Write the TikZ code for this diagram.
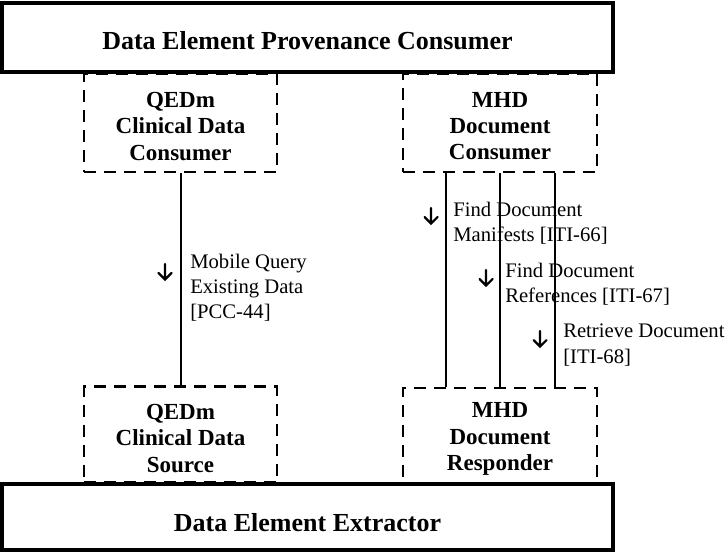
\documentclass[tikz,border=0pt]{standalone}
\usepackage{fontspec}
\setmainfont{Liberation Serif}
\begin{document}
\begin{tikzpicture}[x=0.75pt,y=-0.75pt,
  solidbox/.style={draw, line width=2.4pt, inner sep=0pt, text depth=0pt, font=\fontsize{19.5}{22}\selectfont\bfseries},
  dashbox/.style={draw, line width=2.2pt, dash pattern=on 9pt off 6pt, inner sep=0pt},
  boxtext/.style={inner sep=0pt, align=center, font=\fontsize{17.25}{19.6}\selectfont\bfseries},
  conn/.style={line width=1.5pt},
  lbl/.style={anchor=west, align=left, inner sep=0pt, font=\fontsize{15.5}{18.9}\selectfont},
  dnarrow/.pic={\draw[line width=1.6pt, line cap=round, line join=miter] (0,-8) -- (0,7.5) (-6.5,1) -- (0,7.5) -- (6.5,1);}
]
\useasboundingbox (0,0) rectangle (728,553);
% outer actor boxes
\node[solidbox, minimum width=458.25pt, minimum height=51.75pt, text height=18pt] (dep) at (307.5,37.5) {Data Element Provenance Consumer};
\node[solidbox, minimum width=458.25pt, minimum height=49.5pt, text height=21pt] (dee) at (307.5,517) {Data Element Extractor};
% dashed actors
\node[dashbox, minimum width=144.75pt, minimum height=73.5pt] (qcons) at (180.5,123) {};
\node[boxtext] (qcons-t) at ([yshift=-2.6pt]qcons.center) {QEDm\\Clinical Data\\Consumer};
\node[dashbox, minimum width=145.5pt, minimum height=73.5pt] (mcons) at (500,123) {};
\node[boxtext] (mcons-t) at ([yshift=-2.6pt]mcons.center) {MHD\\Document\\Consumer};
\node[dashbox, minimum width=144.75pt, minimum height=72pt] (qsrc) at (180.5,434.5) {};
\node[boxtext] (qsrc-t) at ([yshift=-3pt]qsrc.center) {QEDm\\Clinical Data\\Source};
\node[dashbox, minimum width=145.5pt, minimum height=71.25pt] (mresp) at (500,435.5) {};
\node[boxtext] (mresp-t) at ([yshift=-2.6pt]mresp.center) {MHD\\Document\\Responder};
% transactions
\draw[conn] (qcons.south) -- (qsrc.north);
\draw[conn] ([xshift=-40.5pt]mcons.south) -- ([xshift=-40.5pt]mresp.north);
\draw[conn] (mcons.south) -- (mresp.north);
\draw[conn] ([xshift=41.25pt]mcons.south) -- ([xshift=41.25pt]mresp.north);
% labels
\pic at (165,272) {dnarrow};
\node[lbl] (l1) at (190,288) {Mobile Query\\Existing Data\\{}[PCC-44]};
\pic at (431,216) {dnarrow};
\node[lbl] (l2) at (453,223) {Find Document\\Manifests [ITI-66]};
\pic at (486,278) {dnarrow};
\node[lbl] (l3) at (505,284.5) {Find Document\\References [ITI-67]};
\pic at (540,339) {dnarrow};
\node[lbl] (l4) at (563,345) {Retrieve Document\\{}[ITI-68]};
\end{tikzpicture}
\end{document}
